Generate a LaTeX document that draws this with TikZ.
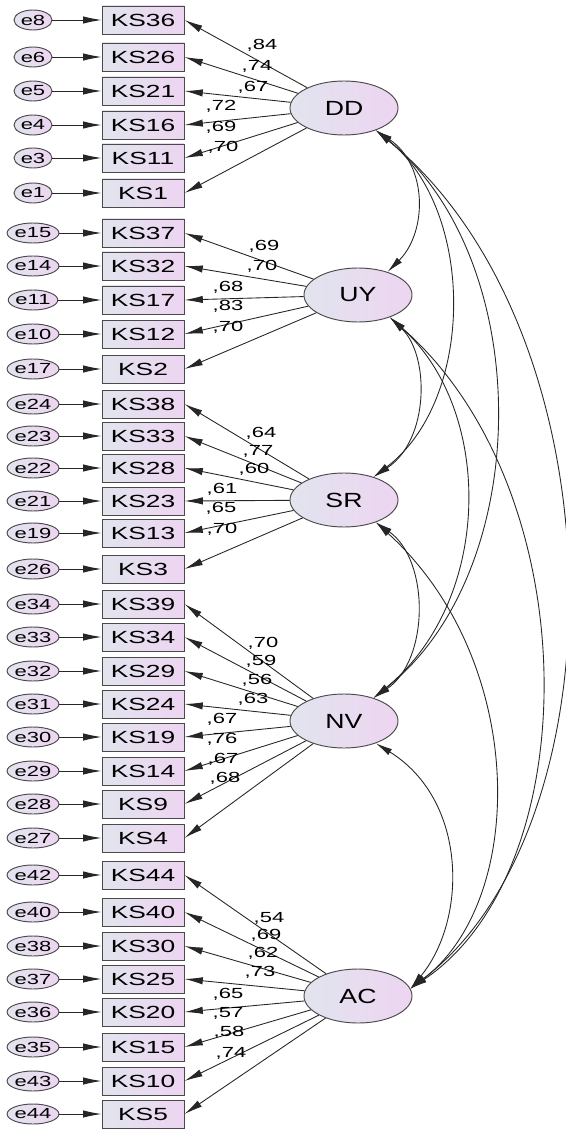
\documentclass[tikz,border=0pt]{standalone}
\usepackage{fontspec}
\usepackage{tikz}
\usetikzlibrary{arrows.meta,shapes.geometric}
\newfontfamily\amos[FakeStretch=1.5]{Liberation Sans}
\newfontfamily\amoslat[FakeStretch=1.3]{Liberation Sans}
\definecolor{amosL}{HTML}{E2E4EE}
\definecolor{amosR}{HTML}{EDD5F1}
\definecolor{amosline}{HTML}{4A4A4A}
\tikzset{
  item/.style={draw=amosline, line width=0.8pt, left color=amosL, right color=amosR,
    minimum width=2.46cm, minimum height=0.84cm, inner sep=0pt,
    font=\amos\fontsize{15}{15}\selectfont},
  err/.style={ellipse, draw=amosline, line width=0.8pt, left color=amosL, right color=amosR,
    minimum width=1.14cm, minimum height=0.6cm, inner sep=0pt,
    font=\amos\fontsize{12.5}{12.5}\selectfont},
  lat/.style={ellipse, draw=amosline, line width=0.8pt, shading angle=-60, left color=amosL, right color=amosR,
    minimum width=3.24cm, minimum height=1.62cm, inner sep=0pt,
    font=\amoslat\fontsize{17.5}{17.5}\selectfont},
  wt/.style={inner sep=0pt, font=\amos\fontsize{12.5}{12.5}\selectfont},
  load/.style={line width=0.75pt, draw=black!85, -{Latex[length=0.55cm,width=0.22cm]}},
  cov/.style={line width=0.75pt, draw=black!85, {Latex[length=0.5cm,width=0.21cm]}-{Latex[length=0.5cm,width=0.21cm]}}
}
\begin{document}
\begin{tikzpicture}[x=0.03cm,y=-0.03cm]
\useasboundingbox (0,0) rectangle (566,1130);
% latent factors
\node[lat] (DD) at (344,108) {DD};
\node[lat] (UY) at (358,295) {UY};
\node[lat] (SR) at (344,500) {SR};
\node[lat] (NV) at (344,721) {NV};
\node[lat] (AC) at (358,996) {AC};
% DD
\node[item] (KS36) at (143,20) {KS36};
\node[item] (KS26) at (143,57) {KS26};
\node[item] (KS21) at (143,91) {KS21};
\node[item] (KS16) at (143,125) {KS16};
\node[item] (KS11) at (143,158) {KS11};
\node[item] (KS1) at (143,193) {KS1};
\node[err] (e8) at (33,20) {e8};
\node[err] (e6) at (33,57) {e6};
\node[err] (e5) at (33,91) {e5};
\node[err] (e4) at (33,125) {e4};
\node[err] (e3) at (33,158) {e3};
\node[err] (e1) at (33,193) {e1};
% UY
\node[item] (KS37) at (143,233) {KS37};
\node[item] (KS32) at (143,266) {KS32};
\node[item] (KS17) at (143,300) {KS17};
\node[item] (KS12) at (143,334) {KS12};
\node[item] (KS2) at (143,369) {KS2};
\node[err] (e15) at (33,233) {e15};
\node[err] (e14) at (33,266) {e14};
\node[err] (e11) at (33,300) {e11};
\node[err] (e10) at (33,334) {e10};
\node[err] (e17) at (33,369) {e17};
% SR
\node[item] (KS38) at (143,404) {KS38};
\node[item] (KS33) at (143,436) {KS33};
\node[item] (KS28) at (143,468) {KS28};
\node[item] (KS23) at (143,501) {KS23};
\node[item] (KS13) at (143,533) {KS13};
\node[item] (KS3) at (143,569) {KS3};
\node[err] (e24) at (33,404) {e24};
\node[err] (e23) at (33,436) {e23};
\node[err] (e22) at (33,468) {e22};
\node[err] (e21) at (33,501) {e21};
\node[err] (e19) at (33,533) {e19};
\node[err] (e26) at (33,569) {e26};
% NV
\node[item] (KS39) at (143,604) {KS39};
\node[item] (KS34) at (143,637) {KS34};
\node[item] (KS29) at (143,671) {KS29};
\node[item] (KS24) at (143,704) {KS24};
\node[item] (KS19) at (143,737) {KS19};
\node[item] (KS14) at (143,771) {KS14};
\node[item] (KS9) at (143,804) {KS9};
\node[item] (KS4) at (143,838) {KS4};
\node[err] (e34) at (33,604) {e34};
\node[err] (e33) at (33,637) {e33};
\node[err] (e32) at (33,671) {e32};
\node[err] (e31) at (33,704) {e31};
\node[err] (e30) at (33,737) {e30};
\node[err] (e29) at (33,771) {e29};
\node[err] (e28) at (33,804) {e28};
\node[err] (e27) at (33,838) {e27};
% AC
\node[item] (KS44) at (143,875) {KS44};
\node[item] (KS40) at (143,912) {KS40};
\node[item] (KS30) at (143,946) {KS30};
\node[item] (KS25) at (143,979) {KS25};
\node[item] (KS20) at (143,1012) {KS20};
\node[item] (KS15) at (143,1047) {KS15};
\node[item] (KS10) at (143,1081) {KS10};
\node[item] (KS5) at (143,1114) {KS5};
\node[err] (e42) at (33,875) {e42};
\node[err] (e40) at (33,912) {e40};
\node[err] (e38) at (33,946) {e38};
\node[err] (e37) at (33,979) {e37};
\node[err] (e36) at (33,1012) {e36};
\node[err] (e35) at (33,1047) {e35};
\node[err] (e43) at (33,1081) {e43};
\node[err] (e44) at (33,1114) {e44};
% error terms
\draw[load] (e8) -- (KS36);
\draw[load] (e6) -- (KS26);
\draw[load] (e5) -- (KS21);
\draw[load] (e4) -- (KS16);
\draw[load] (e3) -- (KS11);
\draw[load] (e1) -- (KS1);
\draw[load] (e15) -- (KS37);
\draw[load] (e14) -- (KS32);
\draw[load] (e11) -- (KS17);
\draw[load] (e10) -- (KS12);
\draw[load] (e17) -- (KS2);
\draw[load] (e24) -- (KS38);
\draw[load] (e23) -- (KS33);
\draw[load] (e22) -- (KS28);
\draw[load] (e21) -- (KS23);
\draw[load] (e19) -- (KS13);
\draw[load] (e26) -- (KS3);
\draw[load] (e34) -- (KS39);
\draw[load] (e33) -- (KS34);
\draw[load] (e32) -- (KS29);
\draw[load] (e31) -- (KS24);
\draw[load] (e30) -- (KS19);
\draw[load] (e29) -- (KS14);
\draw[load] (e28) -- (KS9);
\draw[load] (e27) -- (KS4);
\draw[load] (e42) -- (KS44);
\draw[load] (e40) -- (KS40);
\draw[load] (e38) -- (KS30);
\draw[load] (e37) -- (KS25);
\draw[load] (e36) -- (KS20);
\draw[load] (e35) -- (KS15);
\draw[load] (e43) -- (KS10);
\draw[load] (e44) -- (KS5);
% loadings
\draw[load] (DD) -- (KS36.east);
\draw[load] (DD) -- (KS26.east);
\draw[load] (DD) -- (KS21.east);
\draw[load] (DD) -- (KS16.east);
\draw[load] (DD) -- (KS11.east);
\draw[load] (DD) -- (KS1.east);
\draw[load] (UY) -- (KS37.east);
\draw[load] (UY) -- (KS32.east);
\draw[load] (UY) -- (KS17.east);
\draw[load] (UY) -- (KS12.east);
\draw[load] (UY) -- (KS2.east);
\draw[load] (SR) -- (KS38.east);
\draw[load] (SR) -- (KS33.east);
\draw[load] (SR) -- (KS28.east);
\draw[load] (SR) -- (KS23.east);
\draw[load] (SR) -- (KS13.east);
\draw[load] (SR) -- (KS3.east);
\draw[load] (NV) -- (KS39.east);
\draw[load] (NV) -- (KS34.east);
\draw[load] (NV) -- (KS29.east);
\draw[load] (NV) -- (KS24.east);
\draw[load] (NV) -- (KS19.east);
\draw[load] (NV) -- (KS14.east);
\draw[load] (NV) -- (KS9.east);
\draw[load] (NV) -- (KS4.east);
\draw[load] (AC) -- (KS44.east);
\draw[load] (AC) -- (KS40.east);
\draw[load] (AC) -- (KS30.east);
\draw[load] (AC) -- (KS25.east);
\draw[load] (AC) -- (KS20.east);
\draw[load] (AC) -- (KS15.east);
\draw[load] (AC) -- (KS10.east);
\draw[load] (AC) -- (KS5.east);
% weights
\node[wt] (w36) at (262,45) {,84};
\node[wt] (w26) at (257,66) {,74};
\node[wt] (w21) at (253,87) {,67};
\node[wt] (w16) at (221,106) {,72};
\node[wt] (w11) at (221,127) {,69};
\node[wt] (w1) at (223,147) {,70};
\node[wt] (w37) at (264,246) {,69};
\node[wt] (w32) at (262,266) {,70};
\node[wt] (w17) at (228,287) {,68};
\node[wt] (w12) at (228,306) {,83};
\node[wt] (w2) at (228,327) {,70};
\node[wt] (w38) at (261,433) {,64};
\node[wt] (w33) at (258,451) {,77};
\node[wt] (w28) at (254,469) {,60};
\node[wt] (w23) at (222,489) {,61};
\node[wt] (w13) at (221,508) {,65};
\node[wt] (w3) at (222,529) {,70};
\node[wt] (w39) at (263,643) {,70};
\node[wt] (w34) at (261,661) {,59};
\node[wt] (w29) at (257,680) {,56};
\node[wt] (w24) at (253,699) {,63};
\node[wt] (w19) at (222,719) {,67};
\node[wt] (w14) at (222,739) {,76};
\node[wt] (w9) at (223,759) {,67};
\node[wt] (w4) at (225,778) {,68};
\node[wt] (w44) at (269,918) {,54};
\node[wt] (w40) at (266,935) {,69};
\node[wt] (w30) at (263,953) {,62};
\node[wt] (w25) at (260,972) {,73};
\node[wt] (w20) at (228,994) {,65};
\node[wt] (w15) at (228,1013) {,57};
\node[wt] (w10) at (229,1032) {,58};
\node[wt] (w5) at (231,1053) {,74};
% covariances
\draw[cov] (DD.-35) .. controls +(52,35) and +(40,-40) .. (UY.38);
\draw[cov] (UY.-35) .. controls +(40,38) and +(56,-37) .. (SR.38);
\draw[cov] (SR.-35) .. controls +(54,38) and +(56,-38) .. (NV.38);
\draw[cov] (NV.-35) .. controls +(92,57) and +(57,-69) .. (AC.8);
\draw[cov] (DD.-35) .. controls +(100,80) and +(102,-77) .. (SR.38);
\draw[cov] (DD.-35) .. controls +(160,130) and +(162,-128) .. (NV.38);
\draw[cov] (DD.-35) .. controls +(245,200) and +(215,-165) .. (AC.8);
\draw[cov] (UY.-35) .. controls +(104,93) and +(120,-98) .. (NV.38);
\draw[cov] (UY.-35) .. controls +(198,173) and +(177,-119) .. (AC.8);
\draw[cov] (SR.-35) .. controls +(152,138) and +(117,-89) .. (AC.8);
\end{tikzpicture}
\end{document}
